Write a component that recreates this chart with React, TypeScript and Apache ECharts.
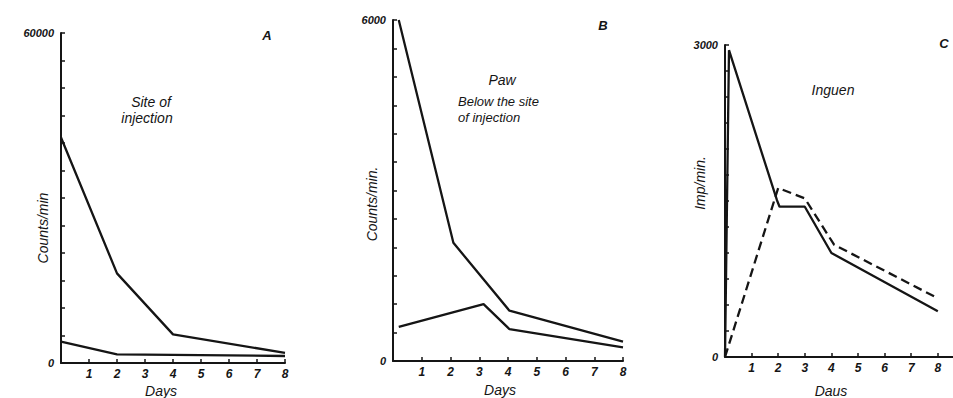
import React, { useEffect, useRef } from 'react';
import * as echarts from 'echarts';

// ---- data ----
const dayTicks = [1, 2, 3, 4, 5, 6, 7, 8];

// Panel A: site of injection (counts/min)
const siteUpper = [[0, 41000], [2, 16300], [4, 5200], [8, 1850]];
const siteLower = [[0, 3870], [2, 1580], [8, 1270]];

// Panel B: paw, below the site of injection (counts/min)
const pawUpper = [[0.2, 6000], [2.1, 2080], [4.05, 885], [8, 340]];
const pawLower = [[0.2, 600], [3.15, 1000], [4.05, 560], [8, 240]];

// Panel C: inguen (imp/min)
const inguenSolid = [[0, 0], [0.15, 2950], [1.95, 1510], [2.05, 1445], [3, 1445], [4, 1000], [8, 440]];
const inguenDashed = [[0, 0], [2, 1625], [3, 1525], [4.1, 1080], [8, 565]];

const yMaxes = [60000, 6000, 3000];
const yIntervals = [5000, 500, 250];
const yTopLabels = ['60000', '6000', '3000'];
const xMaxes = [8, 8, 8.57];

const INK = '#151515';
const FONT = '"Liberation Sans", "DejaVu Sans", sans-serif';

export default function App() {
  const ref = useRef<HTMLDivElement>(null);
  useEffect(() => {
    if (!ref.current) return;
    const chart = echarts.init(ref.current, undefined, { renderer: 'svg' });
    const grids = [
      { left: 61, top: 33, width: 224, height: 330 },
      { left: 393, top: 20, width: 230, height: 341 },
      { left: 725, top: 45, width: 228, height: 312 },
    ];
    const xAxis = grids.map((_, i) => ({
      type: 'value',
      gridIndex: i,
      min: 0,
      max: xMaxes[i],
      interval: 1,
      axisLine: { show: true, onZero: false, lineStyle: { color: INK, width: 2 } },
      axisTick: { show: true, inside: true, length: 4, customValues: dayTicks, lineStyle: { color: INK, width: 1.5 } },
      axisLabel: {
        show: true,
        customValues: dayTicks,
        margin: 5,
        color: INK,
        fontSize: 12,
        fontStyle: 'italic',
        fontWeight: 'bold',
        fontFamily: FONT,
      },
      splitLine: { show: false },
    }));
    const yAxis = grids.map((_, i) => ({
      type: 'value',
      gridIndex: i,
      min: 0,
      max: yMaxes[i],
      interval: yIntervals[i],
      axisLine: { show: true, onZero: false, lineStyle: { color: INK, width: 2 } },
      axisTick: { show: true, inside: true, length: 4, lineStyle: { color: INK, width: 1.5 } },
      axisLabel: {
        show: true,
        customValues: [0, yMaxes[i]],
        formatter: (v: number) => (v === 0 ? '0' : yTopLabels[i]),
        margin: 7,
        color: INK,
        fontSize: 11,
        fontWeight: 'bold',
        fontStyle: 'italic',
        fontFamily: FONT,
      },
      splitLine: { show: false },
    }));
    const lineSeries = (data: number[][], idx: number, dashed = false) => ({
      type: 'line',
      xAxisIndex: idx,
      yAxisIndex: idx,
      data,
      showSymbol: false,
      symbol: 'none',
      lineStyle: { color: INK, width: 2.3, type: dashed ? [9, 5] : 'solid' },
    });
    const txt = (text: string, x: number, y: number, opts: any = {}) => ({
      type: 'text',
      x,
      y,
      rotation: opts.rotation || 0,
      style: {
        text,
        fill: INK,
        fontSize: opts.size || 14,
        fontStyle: 'italic',
        fontWeight: opts.bold ? 'bold' : 'normal',
        fontFamily: FONT,
        align: opts.align || 'center',
        verticalAlign: 'middle',
        textAlign: opts.align || 'center',
        textVerticalAlign: 'middle',
      },
    });
    const option = {
      animation: false,
      backgroundColor: '#ffffff',
      grid: grids.map((g) => ({ ...g, containLabel: false })),
      xAxis,
      yAxis,
      series: [
        lineSeries(siteUpper, 0),
        lineSeries(siteLower, 0),
        lineSeries(pawUpper, 1),
        lineSeries(pawLower, 1),
        lineSeries(inguenSolid, 2),
        lineSeries(inguenDashed, 2, true),
      ],
      graphic: [
        txt('Counts/min', 43, 228, { rotation: Math.PI / 2 }),
        txt('Counts/min.', 372, 204, { rotation: Math.PI / 2 }),
        txt('Imp/min.', 700, 183, { rotation: Math.PI / 2 }),
        txt('Site of', 151, 102),
        txt('injection', 147, 118),
        txt('A', 267, 35, { bold: true, size: 13 }),
        txt('B', 603, 25, { bold: true, size: 13 }),
        txt('C', 944, 43, { bold: true, size: 13 }),
        txt('Paw', 502, 80),
        txt('Below the site', 458, 101, { align: 'left', size: 13 }),
        txt('of injection', 458, 117, { align: 'left', size: 13 }),
        txt('Inguen', 833, 90),
        txt('Days', 161, 391, { size: 14 }),
        txt('Days', 500, 390, { size: 14 }),
        txt('Daus', 831, 391, { size: 14 }),
      ],
    };
    chart.setOption(option as any);
    return () => chart.dispose();
  }, []);
  return (
    <div
      ref={ref}
      style={{ position: 'fixed', left: 0, top: 0, width: 953, height: 398, background: '#fff' }}
    />
  );
}
